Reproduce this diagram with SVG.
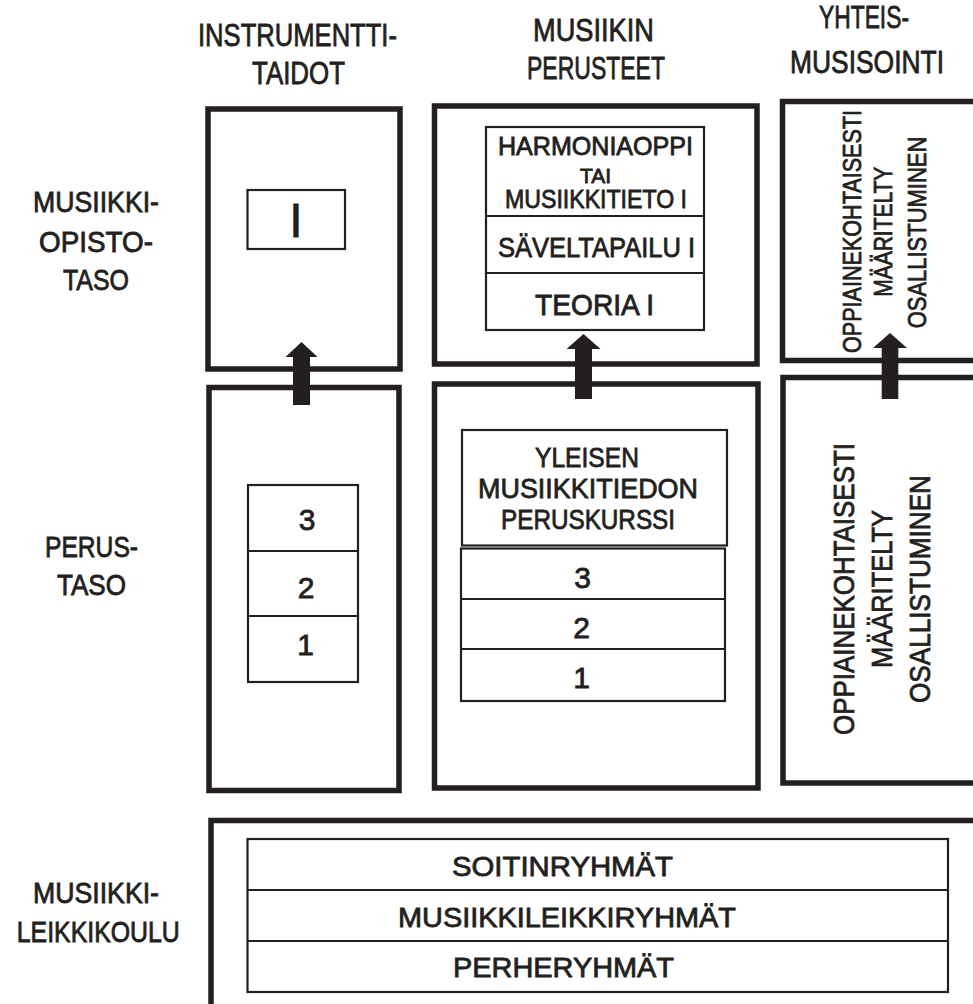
<svg xmlns="http://www.w3.org/2000/svg" width="973" height="1004" viewBox="0 0 973 1004">
<style>
.outer{fill:none;stroke:#231f20;stroke-width:5.5}
.inner{fill:#fff;stroke:#231f20;stroke-width:2.2}
.ln{stroke:#231f20;stroke-width:2.2}
.arr{fill:#231f20}
text{font-family:"Liberation Sans",Arial,sans-serif;fill:#231f20;stroke:#231f20;stroke-width:0.8;text-anchor:middle}
.h{font-size:32px}
.l{font-size:29px}
</style>
<rect width="973" height="1004" fill="#fff"/>
<g id="headers">
<text class="h" x="297.5" y="46" textLength="199" lengthAdjust="spacingAndGlyphs">INSTRUMENTTI-</text>
<text class="h" x="298.5" y="84" textLength="93" lengthAdjust="spacingAndGlyphs">TAIDOT</text>
<text class="h" x="593.5" y="40.7" textLength="121" lengthAdjust="spacingAndGlyphs">MUSIIKIN</text>
<text class="h" x="596" y="79.3" textLength="138" lengthAdjust="spacingAndGlyphs">PERUSTEET</text>
<text class="h" x="864" y="28.3" textLength="90" lengthAdjust="spacingAndGlyphs">YHTEIS-</text>
<text class="h" x="867" y="73.3" textLength="154" lengthAdjust="spacingAndGlyphs">MUSISOINTI</text>
</g>
<g id="row-labels">
<text class="l" x="96" y="211.7" textLength="126" lengthAdjust="spacingAndGlyphs">MUSIIKKI-</text>
<text class="l" x="96" y="251.7" textLength="114" lengthAdjust="spacingAndGlyphs">OPISTO-</text>
<text class="l" x="96" y="290" textLength="66" lengthAdjust="spacingAndGlyphs">TASO</text>
<text class="l" x="91.5" y="556.7" textLength="93" lengthAdjust="spacingAndGlyphs">PERUS-</text>
<text class="l" x="91.5" y="595" textLength="69" lengthAdjust="spacingAndGlyphs">TASO</text>
<text class="l" x="96" y="903" textLength="126" lengthAdjust="spacingAndGlyphs">MUSIIKKI-</text>
<text class="l" x="98.3" y="941.7" textLength="163" lengthAdjust="spacingAndGlyphs">LEIKKIKOULU</text>
</g>
<g id="instrumentti-opisto">
<rect class="outer" x="208" y="109" width="192" height="260"/>
<rect class="inner" x="247.5" y="190" width="97.5" height="59"/>
<text x="296" y="237" style="font-size:48px">I</text>
</g>
<g id="perusteet-opisto">
<rect class="outer" x="434.5" y="106" width="322.5" height="258"/>
<rect class="inner" x="486" y="127" width="218" height="203"/>
<line class="ln" x1="486" y1="216" x2="704" y2="216"/>
<line class="ln" x1="486" y1="273" x2="704" y2="273"/>
<text x="595.5" y="155" style="font-size:25px" textLength="195" lengthAdjust="spacingAndGlyphs">HARMONIAOPPI</text>
<text x="595.5" y="183" style="font-size:20px" textLength="31" lengthAdjust="spacingAndGlyphs">TAI</text>
<text x="596" y="208" style="font-size:25px" textLength="182" lengthAdjust="spacingAndGlyphs">MUSIIKKITIETO I</text>
<text x="596.5" y="257" style="font-size:28px" textLength="197" lengthAdjust="spacingAndGlyphs">SÄVELTAPAILU I</text>
<text x="594.5" y="315" style="font-size:29px" textLength="119" lengthAdjust="spacingAndGlyphs">TEORIA I</text>
</g>
<g id="yhteis-opisto">
<path class="outer" d="M980 101.5 H782.5 V360.5 H980"/>
<text transform="translate(860.7 231.5) rotate(-90)" style="font-size:25px" textLength="243" lengthAdjust="spacingAndGlyphs">OPPIAINEKOHTAISESTI</text>
<text transform="translate(892 231.7) rotate(-90)" style="font-size:25px" textLength="130" lengthAdjust="spacingAndGlyphs">MÄÄRITELTY</text>
<text transform="translate(926 232.5) rotate(-90)" style="font-size:26px" textLength="191.6" lengthAdjust="spacingAndGlyphs">OSALLISTUMINEN</text>
</g>
<g id="instrumentti-perus">
<rect class="outer" x="209" y="387.5" width="190" height="403"/>
<rect class="inner" x="248" y="485" width="110" height="197"/>
<line class="ln" x1="248" y1="551" x2="358" y2="551"/>
<line class="ln" x1="248" y1="616" x2="358" y2="616"/>
<text x="307" y="530" style="font-size:30px">3</text>
<text x="306" y="598" style="font-size:30px">2</text>
<text x="305.5" y="655" style="font-size:30px">1</text>
</g>
<g id="perusteet-perus">
<rect class="outer" x="434.5" y="384" width="323.5" height="404"/>
<rect class="inner" x="462" y="430" width="265" height="115.5"/>
<text x="587" y="467" style="font-size:28px" textLength="104" lengthAdjust="spacingAndGlyphs">YLEISEN</text>
<text x="588" y="498" style="font-size:28px" textLength="220" lengthAdjust="spacingAndGlyphs">MUSIIKKITIEDON</text>
<text x="588" y="529" style="font-size:28px" textLength="174" lengthAdjust="spacingAndGlyphs">PERUSKURSSI</text>
<rect class="inner" x="461" y="548.5" width="264" height="152.5"/>
<line class="ln" x1="461" y1="599" x2="725" y2="599"/>
<line class="ln" x1="461" y1="649" x2="725" y2="649"/>
<text x="582.5" y="588" style="font-size:30px">3</text>
<text x="581.5" y="638" style="font-size:30px">2</text>
<text x="581.5" y="688" style="font-size:30px">1</text>
</g>
<g id="yhteis-perus">
<path class="outer" d="M980 377.5 H783 V783 H980"/>
<text transform="translate(854 589) rotate(-90)" style="font-size:30px" textLength="292" lengthAdjust="spacingAndGlyphs">OPPIAINEKOHTAISESTI</text>
<text transform="translate(891.7 589) rotate(-90)" style="font-size:30px" textLength="158" lengthAdjust="spacingAndGlyphs">MÄÄRITELTY</text>
<text transform="translate(930 589) rotate(-90)" style="font-size:30px" textLength="228" lengthAdjust="spacingAndGlyphs">OSALLISTUMINEN</text>
</g>
<g id="leikkikoulu">
<path class="outer" d="M211 1010 V820.5 H980"/>
<rect class="inner" x="247.5" y="839" width="700.5" height="153"/>
<line class="ln" x1="247.5" y1="890" x2="948" y2="890"/>
<line class="ln" x1="247.5" y1="941" x2="948" y2="941"/>
<text x="562.5" y="876" style="font-size:28px" textLength="221" lengthAdjust="spacingAndGlyphs">SOITINRYHMÄT</text>
<text x="567" y="926.5" style="font-size:28px" textLength="338" lengthAdjust="spacingAndGlyphs">MUSIIKKILEIKKIRYHMÄT</text>
<text x="563.5" y="977" style="font-size:28px" textLength="221" lengthAdjust="spacingAndGlyphs">PERHERYHMÄT</text>
</g>
<g id="connectors">
<polygon class="arr" points="293,405 310,405 310,357 317.5,357 301.5,342 285.5,357 293,357"/>
<polygon class="arr" points="575,399 592,399 592,349 600.5,349 583.5,334 566.5,349 575,349"/>
<polygon class="arr" points="881.7,399 898.3,399 898.3,348 907,348 890,333 873,348 881.7,348"/>
</g>
</svg>
